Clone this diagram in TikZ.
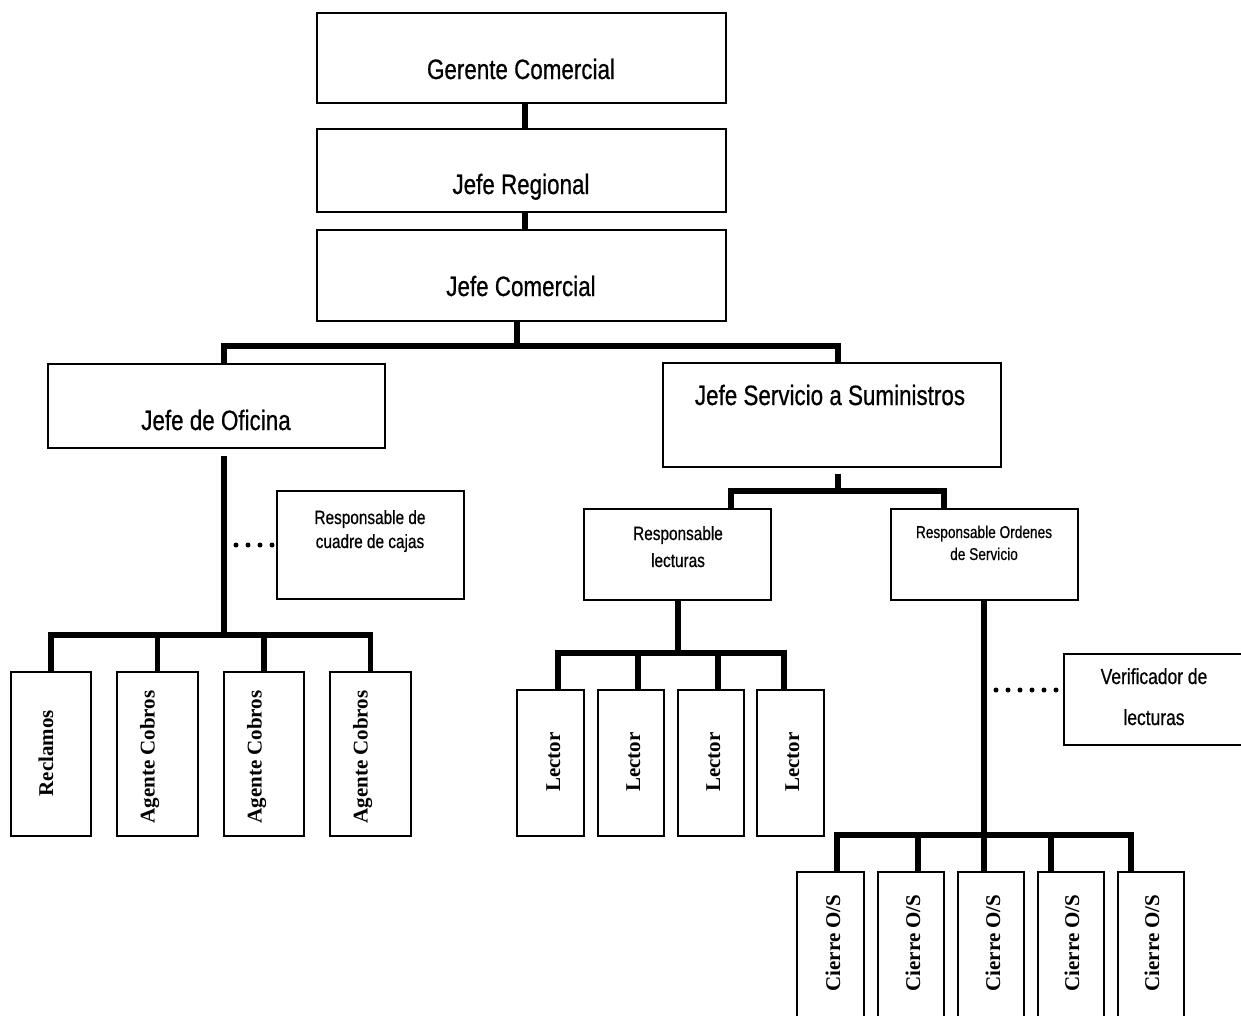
\documentclass[tikz,border=0pt]{standalone}
\usepackage{fontspec}
\setmainfont{Liberation Serif}
\newfontfamily\cond[FakeStretch=0.8,FakeBold=0.6]{Liberation Sans}
\begin{document}
\begin{tikzpicture}[x=1pt,y=-1pt,
  box/.style={draw, line width=1.6pt, rectangle, inner sep=0pt},
  conn/.style={line width=5.5pt},
  dotline/.style={line width=5pt, dash pattern=on 0pt off 12pt, line cap=round},
  big/.style={font=\cond\fontsize{28}{32}\selectfont, anchor=base, inner sep=0pt},
  mid/.style={font=\cond\fontsize{19.2}{22}\selectfont, anchor=base, inner sep=0pt},
  vt/.style={rotate=90, anchor=base, inner sep=0pt, font=\bfseries\fontsize{21}{24}\selectfont}]
\useasboundingbox (0,0) rectangle (1241,1015);
\clip (0,0) rectangle (1241,1015);

% top boxes
\node[box, minimum width=409pt, minimum height=90pt] (ger) at (521.5,58) {};
\node[big] (gerT) at (521,79) {Gerente Comercial};
\node[box, minimum width=409pt, minimum height=83pt] (reg) at (521.5,170.5) {};
\node[big] (regT) at (521,194) {Jefe Regional};
\node[box, minimum width=409pt, minimum height=91pt] (com) at (521.5,275.5) {};
\node[big] (comT) at (521,296) {Jefe Comercial};

% second level
\node[box, minimum width=337pt, minimum height=84pt] (ofi) at (216.5,406) {};
\node[big] (ofiT) at (216,430) {Jefe de Oficina};
\node[box, minimum width=338pt, minimum height=104pt] (sum) at (832,415) {};
\node[big] (sumT) at (830,405) {Jefe Servicio a Suministros};

% staff boxes
\node[box, minimum width=187pt, minimum height=108pt] (caj) at (370.5,545) {};
\node[mid] (cajT1) at (370,524) {Responsable de};
\node[mid] (cajT2) at (370,548) {cuadre de cajas};
\node[box, minimum width=187pt, minimum height=91pt] (lec) at (677.5,554.5) {};
\node[mid] (lecT1) at (678,540) {Responsable};
\node[mid] (lecT2) at (678,567) {lecturas};
\node[box, minimum width=187pt, minimum height=91pt] (ord) at (984.5,554.5) {};
\node[mid, font=\cond\fontsize{17.1}{20}\selectfont] (ordT1) at (984,538) {Responsable Ordenes};
\node[mid, font=\cond\fontsize{17.1}{20}\selectfont] (ordT2) at (984,560) {de Servicio};
\node[box, minimum width=182pt, minimum height=91pt] (ver) at (1155,699.5) {};
\node[mid, font=\cond\fontsize{21.8}{24}\selectfont] (verT1) at (1154,684) {Verificador de};
\node[mid, font=\cond\fontsize{21.8}{24}\selectfont] (verT2) at (1154,725) {lecturas};

% left bottom boxes
\node[box, minimum width=80pt, minimum height=164pt] (rec) at (51,754) {};
\node[vt] at (53,753) {Reclamos};
\node[box, minimum width=81pt, minimum height=164pt] (ag1) at (157.5,754) {};
\node[vt] at (154.5,757) {Agente Cobros};
\node[box, minimum width=80pt, minimum height=164pt] (ag2) at (264,754) {};
\node[vt] at (261.5,757) {Agente Cobros};
\node[box, minimum width=81pt, minimum height=164pt] (ag3) at (370.5,754) {};
\node[vt] at (367.5,757) {Agente Cobros};

% lector boxes
\node[box, minimum width=67pt, minimum height=146pt] (l1) at (550.5,763) {};
\node[vt] at (560,762) {Lector};
\node[box, minimum width=66pt, minimum height=146pt] (l2) at (631,763) {};
\node[vt] at (640,762) {Lector};
\node[box, minimum width=66pt, minimum height=146pt] (l3) at (711,763) {};
\node[vt] at (720,762) {Lector};
\node[box, minimum width=67pt, minimum height=146pt] (l4) at (790.5,763) {};
\node[vt] at (799,762) {Lector};

% cierre boxes
\node[box, minimum width=67pt, minimum height=158pt] (c1) at (830.5,951) {};
\node[vt] at (840,943) {Cierre O/S};
\node[box, minimum width=66pt, minimum height=158pt] (c2) at (911,951) {};
\node[vt] at (920,943) {Cierre O/S};
\node[box, minimum width=66pt, minimum height=158pt] (c3) at (991,951) {};
\node[vt] at (1000,943) {Cierre O/S};
\node[box, minimum width=66pt, minimum height=158pt] (c4) at (1071,951) {};
\node[vt] at (1079,943) {Cierre O/S};
\node[box, minimum width=66pt, minimum height=158pt] (c5) at (1151,951) {};
\node[vt] at (1159,943) {Cierre O/S};

% connectors top
\draw[conn] ([xshift=3.5pt]ger.south) -- ([xshift=3.5pt]reg.north);
\draw[conn] ([xshift=3.5pt]reg.south) -- ([xshift=3.5pt]com.north);
\coordinate (bL) at (224,346);
\coordinate (bR) at (838,346);
\draw[conn] ([xshift=-4.5pt]com.south) -- ([xshift=-4.5pt]com.south |- bL);
\draw[conn] (ofi.north -| bL) -- (bL) -- (bR) -- (sum.north -| bR);

% jefe de oficina branch
\coordinate (oB) at (224,635);
\draw[conn] (ofi.south -| oB) ++(0,7) -- (oB);
\draw[conn] (rec.north) |- (oB) -| (ag3.north);
\draw[conn] (ag1.north) -- (ag1.north |- oB);
\draw[conn] (ag2.north) -- (ag2.north |- oB);
\coordinate (d1) at (236,545);
\draw[dotline] (d1) -- (caj.west);

% jefe servicio branch
\coordinate (sL) at (731,491);
\coordinate (sR) at (944,491);
\draw[conn] ([xshift=6pt]sum.south) ++(0,6) -- ([xshift=6pt]sum.south |- sL);
\draw[conn] (lec.north -| sL) -- (sL) -- (sR) -- (ord.north -| sR);

% lecturas branch
\coordinate (lB) at (678,653);
\draw[conn] (lec.south -| lB) -- (lB);
\draw[conn] ([xshift=7.5pt]l1.north) |- (lB) -| ([xshift=-6.5pt]l4.north);
\draw[conn] ([xshift=7pt]l2.north) -- ([xshift=7pt]l2.north |- lB);
\draw[conn] ([xshift=7pt]l3.north) -- ([xshift=7pt]l3.north |- lB);

% ordenes branch
\coordinate (cB) at (984,835);
\draw[conn] (ord.south -| cB) -- (cB);
\draw[conn] ([xshift=6.5pt]c1.north) |- (cB) -| ([xshift=-20pt]c5.north);
\draw[conn] ([xshift=7pt]c2.north) -- ([xshift=7pt]c2.north |- cB);
\draw[conn] ([xshift=-7pt]c3.north) -- ([xshift=-7pt]c3.north |- cB);
\draw[conn] ([xshift=-20pt]c4.north) -- ([xshift=-20pt]c4.north |- cB);
\coordinate (d2) at (996,690);
\draw[dotline] (d2) -- (d2 -| ver.west);
\end{tikzpicture}
\end{document}
